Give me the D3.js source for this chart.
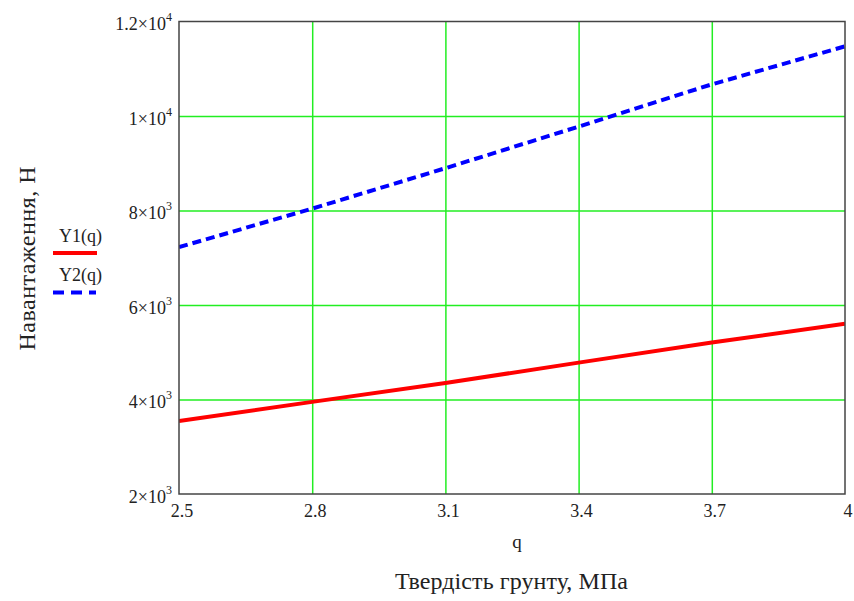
<!doctype html>
<html>
<head>
<meta charset="utf-8">
<script src="https://d3js.org/d3.v7.min.js"></script>
<style>
  body { margin: 0; background: #fff; }
</style>
</head>
<body>
<svg id="chart" width="854" height="601" font-family="'Liberation Serif', 'Times New Roman', serif"></svg>
<script>
// data
const qValues = [2.5, 2.8, 3.1, 3.4, 3.7, 4.0]
const y1Values = [3545, 3950, 4350, 4780, 5205, 5605]
const y2Values = [7225, 8040, 8895, 9775, 10670, 11475]
const xTicks = [2.5, 2.8, 3.1, 3.4, 3.7, 4]
const yTicks = [2000, 4000, 6000, 8000, 10000, 12000]
const yTickMantissa = ["2", "4", "6", "8", "1", "1.2"]
const yTickExponent = ["3", "3", "3", "3", "4", "4"]
const seriesNames = ["Y1(q)", "Y2(q)"]

const LEFT = 179, RIGHT = 845, TOP = 21.5, BOTTOM = 494
const FONT = "'Liberation Serif', 'Times New Roman', serif"
const INK = "#222"

const svg = d3.select("#chart")

const x = d3.scaleLinear().domain([2.5, 4]).range([LEFT, RIGHT])
const y = d3.scaleLinear().domain([2000, 12000]).range([BOTTOM, TOP])

// grid
svg.append("g")
    .attr("transform", "translate(0," + BOTTOM + ")")
    .call(d3.axisBottom(x).tickValues(xTicks.slice(1, -1)).tickSize(-(BOTTOM - TOP)).tickFormat(""))
    .call(g => g.select(".domain").remove())
    .selectAll("line").attr("stroke", "#22ee22").attr("stroke-width", 1.5)

svg.append("g")
    .attr("transform", "translate(" + LEFT + ",0)")
    .call(d3.axisLeft(y).tickValues(yTicks.slice(1, -1)).tickSize(-(RIGHT - LEFT)).tickFormat(""))
    .call(g => g.select(".domain").remove())
    .selectAll("line").attr("stroke", "#22ee22").attr("stroke-width", 1.5)

// lines
svg.append("defs").append("clipPath").attr("id", "clip")
    .append("rect").attr("x", LEFT).attr("y", TOP).attr("width", RIGHT - LEFT).attr("height", BOTTOM - TOP)

const line = (vals) => d3.line().x((d, i) => x(qValues[i])).y(d => y(d))(vals)

svg.append("path")
    .attr("d", line(y1Values))
    .attr("clip-path", "url(#clip)")
    .attr("fill", "none").attr("stroke", "#ff0000").attr("stroke-width", 4)

svg.append("path")
    .attr("d", line(y2Values))
    .attr("clip-path", "url(#clip)")
    .attr("fill", "none").attr("stroke", "#0000ff").attr("stroke-width", 4)
    .attr("stroke-dasharray", "9,5")

// frame
svg.append("rect")
    .attr("x", LEFT).attr("y", TOP).attr("width", RIGHT - LEFT).attr("height", BOTTOM - TOP)
    .attr("fill", "none").attr("stroke", "#444").attr("stroke-width", 1.5)

// x tick labels
const xAxis = svg.append("g")
    .attr("transform", "translate(0," + BOTTOM + ")")
    .call(d3.axisBottom(x).tickValues(xTicks).tickSize(0).tickPadding(0).tickFormat(d3.format("")))
xAxis.select(".domain").remove()
xAxis.selectAll("text")
    .attr("dy", null).attr("y", 23).attr("dx", 2.5)
    .attr("font-size", 18).attr("font-family", FONT).attr("fill", INK)

// y tick labels with superscript
const yAxis = svg.append("g")
    .attr("transform", "translate(" + LEFT + ",0)")
    .call(d3.axisLeft(y).tickValues(yTicks).tickSize(0).tickPadding(0))
yAxis.select(".domain").remove()
yAxis.selectAll("text").each(function (d) {
    const i = yTicks.indexOf(d)
    const t = d3.select(this)
    t.text(null).attr("x", -7).attr("dy", null).attr("y", 8)
        .attr("font-size", 18).attr("font-family", FONT).attr("fill", INK)
    t.append("tspan").text(yTickMantissa[i] + "\u00d710")
    t.append("tspan").text(yTickExponent[i]).attr("font-size", 12).attr("dy", -9)
})

// axis titles
svg.append("text")
    .attr("x", 517).attr("y", 548).attr("text-anchor", "middle")
    .attr("font-size", 19).attr("fill", INK).text("q")

svg.append("text")
    .attr("x", 511.5).attr("y", 589).attr("text-anchor", "middle")
    .attr("font-size", 24).attr("fill", INK)
    .attr("textLength", 233).attr("lengthAdjust", "spacing")
    .text("Твердість грунту, МПа")

svg.append("text")
    .attr("transform", "translate(35,258.5) rotate(-90)")
    .attr("text-anchor", "middle")
    .attr("font-size", 24).attr("fill", INK)
    .attr("textLength", 184).attr("lengthAdjust", "spacing")
    .text("Навантаження, Н")

// legend
const legend = svg.append("g").attr("fill", INK)
legend.append("text").attr("x", 59).attr("y", 242).attr("font-size", 18).text(seriesNames[0])
legend.append("line").attr("x1", 53).attr("x2", 97).attr("y1", 253).attr("y2", 253)
    .attr("stroke", "#ff0000").attr("stroke-width", 4)
legend.append("text").attr("x", 59).attr("y", 281).attr("font-size", 18).text(seriesNames[1])
legend.append("line").attr("x1", 53).attr("x2", 96).attr("y1", 292.5).attr("y2", 292.5)
    .attr("stroke", "#0000ff").attr("stroke-width", 4).attr("stroke-dasharray", "11,7")
</script>
</body>
</html>
